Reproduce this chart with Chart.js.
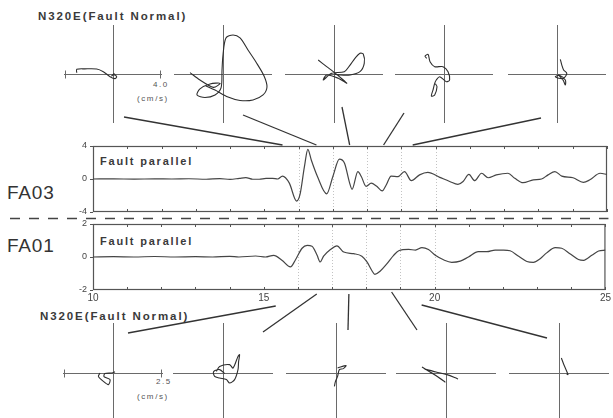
<!DOCTYPE html>
<html>
<head>
<meta charset="utf-8">
<script src="https://cdn.jsdelivr.net/npm/chart.js@4.4.0/dist/chart.umd.min.js"></script>
<style>
  html, body { margin: 0; padding: 0; background: #fff; }
  #stage { position: relative; width: 613px; height: 418px; overflow: hidden;
           font-family: Arial, "Liberation Sans", sans-serif; color: #333; }
  #stage canvas { position: absolute; }
  .lbl { position: absolute; white-space: nowrap; line-height: 1; }
  .title { font-size: 11.5px; font-weight: bold; letter-spacing: 1.9px; color: #3a3a3a; }
  .station { font-size: 19px; letter-spacing: 0.8px; color: #333; }
  .comp { font-size: 11px; font-weight: bold; letter-spacing: 1.8px; color: #3a3a3a; }
  .unit { font-size: 8px; letter-spacing: 1.6px; color: #555; }
</style>
</head>
<body>
<div id="stage">
  <div class="lbl title" style="left:38px; top:11px;">N320E(Fault Normal)</div>
  <div class="lbl unit" style="left:153px; top:81px;">4.0</div>
  <div class="lbl unit" style="left:137px; top:95px;">(cm/s)</div>
  <div class="lbl station" style="left:7px; top:183px;">FA03</div>
  <div class="lbl comp" style="left:100px; top:156px;">Fault parallel</div>
  <div class="lbl station" style="left:7px; top:236px;">FA01</div>
  <div class="lbl comp" style="left:100px; top:236px;">Fault parallel</div>
  <div class="lbl title" style="left:40px; top:311px;">N320E(Fault Normal)</div>
  <div class="lbl unit" style="left:156px; top:378px;">2.5</div>
  <div class="lbl unit" style="left:137px; top:393px;">(cm/s)</div>
</div>
<script>
// ---- Fault-parallel velocity traces (cm/s) against time (s) ----
const fa03Time = [10.0, 10.6, 11.2, 11.8, 12.3, 12.8, 13.3, 13.7, 14.0,
  14.27, 14.46, 14.66, 14.85, 15.05, 15.24, 15.39, 15.53, 15.73, 15.94,
  16.04, 16.17, 16.27, 16.37, 16.55, 16.82,
  17.0, 17.19, 17.34, 17.49, 17.56, 17.73, 17.83, 17.97,
  18.12, 18.27, 18.44, 18.56, 18.7, 18.9,
  19.09, 19.29, 19.53, 19.77,
  20.12, 20.41, 20.65, 20.8, 20.97,
  21.14, 21.34, 21.53, 21.77,
  22.11, 22.31, 22.55, 22.85,
  23.09, 23.28, 23.48, 23.68,
  24.01, 24.31, 24.5, 24.8, 25.0];
const fa03Vel = [0, 0.02, -0.02, 0.02, 0, 0.03, -0.03, 0.05, -0.05,
  0.08, 0.17, -0.03, -0.03, 0.08, 0.08, 0.0, 0.35, -0.5, -2.67,
  -1.9, 1.5, 3.6, 2.3, 0.3, -1.8,
  0.3, 2.4, 1.9, -0.5, -1.25, 0.9, 0.3, -0.9,
  -0.5, -0.85, -1.45, -0.7, 0.35, 0.3,
  0.9, -0.2, 0.5, 0.8,
  0.2, -0.3, -0.65, -0.3, 0.55,
  -0.2, 0.7, 0.15, 0.5,
  0.7, 0.08, -0.45, -0.1,
  0.0, 0.5, 0.9, 0.35,
  0.15, -0.4, -0.1, 0.7, 0.55];

const fa01Time = [10.0, 10.6, 11.2, 11.8, 12.4, 13.0, 13.5, 14.0,
  14.27, 14.76, 15.05, 15.29, 15.53, 15.78, 15.92,
  16.12, 16.27, 16.41, 16.56, 16.65, 16.75, 16.95,
  17.14, 17.34, 17.63, 17.87,
  18.02, 18.17, 18.25, 18.41, 18.6, 18.8, 18.95,
  19.24, 19.44, 19.63, 19.82,
  20.02, 20.26, 20.5, 20.75, 20.99,
  21.28, 21.53, 21.77,
  22.02, 22.21, 22.46, 22.7, 22.89,
  23.09, 23.28, 23.53, 23.72, 23.96,
  24.21, 24.36, 24.6, 24.8, 25.0];
const fa01Vel = [0, 0.02, 0.0, 0.03, 0.0, 0.02, 0.0, 0.04,
  0.0, 0.06, 0.0, 0.1, -0.2, -0.6, -0.2,
  0.53, 0.7, 0.65, 0.1, -0.3, 0.05, 0.45,
  0.68, 0.3, 0.2, 0.05,
  -0.3, -0.85, -1.05, -0.85, -0.42, 0.1, 0.38,
  0.46, 0.42, 0.57, 0.45,
  0.1, -0.17, -0.32, -0.25, 0.0,
  0.32, 0.32, 0.42,
  0.42, 0.38, 0.04, -0.27, -0.32,
  -0.1, 0.25, 0.57, 0.53, 0.2,
  -0.15, -0.2, 0.1, 0.36, 0.42];

// axis ticks
const timeTicks = [10, 15, 20, 25];
const fa03Ticks = [-4, 0, 4];
const fa01Ticks = [-2, 0, 2];
const guideTimes = [16, 17, 18, 19, 20];

// ---- Particle-motion hodograms: [fault-parallel, fault-normal] in cm/s ----
const fa03Hodo1 = [[-2.96,0.11],[-2.96,0.38],[-2.3,0.42],[-1.33,0.41],[-0.79,0.19],[-0.24,-0.22],[0.16,-0.38],[0.3,-0.22],[0.05,-0.05],[-0.1,-0.15],[0.12,0.05]];
const fa03Hodo2 = [[-2.69,0.11],[-1.88,-0.49],[-0.79,-1.09],[-0.24,-0.76],[-1.06,-0.82],[-1.88,-1.22],[-2.12,-1.71],[-1.47,-1.92],[-0.65,-1.71],[-0.16,-1.14],[-0.08,0.33],[0,1.55],[0.24,2.94],[0.82,3.18],[1.39,2.94],[2.04,1.96],[2.69,0.98],[3.35,-0.16],[3.59,-1.06],[3.27,-1.71],[2.45,-2.12],[1.39,-2.16],[0.41,-1.88],[-0.65,-1.31],[-1.39,-0.98]];
const fa03Hodo3 = [[-1.29,1.14],[-0.6,0.6],[-0.06,0.19],[0.76,-0.49],[1.04,-0.76],[0.35,-0.35],[-0.6,-0.08],[-0.87,-0.49],[-0.19,0.06],[0.84,0.19],[1.31,0.73],[1.71,1.28],[2.12,1.69],[2.39,1.63],[2.47,0.87],[2.12,0.19],[1.31,-0.08],[0.49,-0.08],[0.0,0.0]];
const fa03Hodo4 = [[-1.41,1.28],[-1.55,1.45],[-1.3,1.6],[-1.14,1.0],[-0.76,0.6],[-0.08,0.6],[0.33,0.19],[0.46,-0.49],[0.19,-0.63],[-0.35,-0.22],[-0.63,-0.49],[-0.76,-0.76],[-0.9,-1.31],[-1.03,-1.8],[-0.76,-1.71],[-0.57,-1.04],[-0.7,-0.8]];
const fa03Hodo5 = [[0.27,1.2],[0.4,0.7],[0.54,0.33],[0.8,0.05],[0.54,-0.35],[0.14,-0.35],[-0.14,-0.22],[0.2,-0.1],[0.68,-0.49],[0.68,-0.9],[0.5,-0.5],[0.1,-0.05]];

const fa01Hodo1 = [[-0.65,0],[-0.73,-0.17],[-0.48,-0.42],[-0.23,-0.58],[-0.15,-0.33],[-0.45,-0.18],[-0.4,-0.03],[-0.05,0],[0.1,0.06]];
const fa01Hodo2 = [[-0.33,0.08],[-0.17,0.33],[0.33,0.42],[0.5,0.25],[0.75,0.83],[0.83,0.92],[0.78,0.57],[0.75,0.17],[0.58,-0.33],[0.33,-0.5],[0.17,-0.33],[-0.17,-0.25],[-0.42,-0.17],[-0.47,0.07],[-0.17,0.17],[0.08,-0.03]];
const fa01Hodo3 = [[0.08,0.25],[0.5,0.37],[0.37,0.22],[0.17,0.17],[0.08,-0.17],[-0.03,-0.43],[-0.08,-0.67]];
const fa01Hodo4 = [[-1.2,0.3],[-0.8,0.05],[-0.4,-0.2],[-0.05,-0.45],[-0.25,-0.3],[-0.7,0.0],[-1.05,0.2],[-0.5,0.05],[0.05,-0.08],[0.5,-0.25],[0.6,-0.3]];
const fa01Hodo5 = [[0.12,0.75],[0.25,0.4],[0.4,0.05],[0.45,-0.08],[0.38,-0.05]];

// hodogram axis half-ranges (cm/s)
const fa03HodoRange = 4.0;
const fa01HodoRange = 2.5;

// times (s) on each trace that every hodogram is tied to
const fa03LinkTimes = [15.53, 16.52, 17.49, 18.48, 19.33];
const fa01LinkTimes = [15.35, 16.55, 17.49, 18.74, 19.62];

// ---- page layout ----
const W = 613, H = 418;
const PANEL = { left: 93, right: 607, yAxis: 20 };
const FA03_BOX = { top: 146, bottom: 212 };
const FA01_BOX = { top: 224, bottom: 290, xAxis: 14 };
const TOP_ROW = { y: 74, xs: [113, 223, 334, 444, 557], half: 49 };
const BOTTOM_ROW = { y: 373, xs: [113, 223, 336, 446, 559], half: 50 };
// where each link line meets its hodogram (offset from the hodogram centre)
const TOP_LINK_FOOT = [[11, 43], [20, 41], [8, 33], [-40, 39], [-16, 44]];
const BOTTOM_LINK_HEAD = [[15, -40], [40, -41], [12, -43], [-29, -43], [-12, -35]];
const BOTTOM_LINK_DROP = [16, 4, 4, 2, 15];

const stage = document.getElementById('stage');
const TRACE = '#454545';

function seg(ctx, x1, y1, x2, y2) {
  ctx.beginPath(); ctx.moveTo(x1, y1); ctx.lineTo(x2, y2); ctx.stroke();
}

function addCanvas(left, top, w, h) {
  const c = document.createElement('canvas');
  c.width = w; c.height = h;
  c.style.left = left + 'px'; c.style.top = top + 'px';
  c.style.width = w + 'px'; c.style.height = h + 'px';
  stage.appendChild(c);
  return c;
}

// frame, one-second ticks and dotted guides for a trace panel
const panelFrame = {
  id: 'panelFrame',
  beforeDatasetsDraw(chart) {
    const { ctx, chartArea: a, scales: { x, y } } = chart;
    ctx.save();
    ctx.strokeStyle = '#b4b4b4'; ctx.lineWidth = 0.8; ctx.setLineDash([1, 2]);
    guideTimes.forEach(t => {
      const px = Math.round(x.getPixelForValue(t)) + 0.5;
      seg(ctx, px, a.top, px, a.bottom);
    });
    ctx.setLineDash([]);
    ctx.strokeStyle = '#555'; ctx.lineWidth = 1.2;
    ctx.strokeRect(a.left + 0.5, a.top + 0.5, a.width - 1, a.height - 1);
    ctx.lineWidth = 1;
    for (let t = Math.ceil(x.min); t <= x.max; t++) {
      const px = Math.round(x.getPixelForValue(t)) + 0.5;
      seg(ctx, px, a.top, px, a.top + 3);
      seg(ctx, px, a.bottom - 3, px, a.bottom);
    }
    y.ticks.forEach(tk => {
      const py = Math.round(y.getPixelForValue(tk.value)) + 0.5;
      seg(ctx, a.left - 3, py, a.left, py);
    });
    ctx.restore();
  }
};

function traceChart(times, vels, ticks, box, showTime, extraPlugins) {
  const c = addCanvas(0, 0, W, H);
  const bottomPad = H - box.bottom - (showTime ? FA01_BOX.xAxis : 0);
  return new Chart(c, {
    type: 'line',
    data: {
      datasets: [{
        data: times.map((t, i) => ({ x: t, y: vels[i] })),
        borderColor: TRACE, borderWidth: 1.2, pointRadius: 0,
        cubicInterpolationMode: 'monotone', fill: false
      }]
    },
    options: {
      responsive: false, animation: false, events: [],
      layout: { padding: { left: PANEL.left - PANEL.yAxis, right: W - PANEL.right, top: box.top, bottom: bottomPad } },
      plugins: { legend: { display: false }, tooltip: { enabled: false } },
      scales: {
        x: {
          type: 'linear', min: timeTicks[0], max: timeTicks[timeTicks.length - 1],
          display: showTime,
          grid: { display: false, drawTicks: false }, border: { display: false },
          afterBuildTicks: s => { s.ticks = timeTicks.map(v => ({ value: v })); },
          ticks: { color: '#444', font: { size: 10 }, padding: 2, maxRotation: 0, autoSkip: false },
          afterFit: s => { s.height = showTime ? FA01_BOX.xAxis : 0; }
        },
        y: {
          min: ticks[0], max: ticks[ticks.length - 1],
          grid: { display: false, drawTicks: false }, border: { display: false },
          afterBuildTicks: s => { s.ticks = ticks.map(v => ({ value: v })); },
          ticks: { color: '#444', font: { size: 9 }, padding: 6 },
          afterFit: s => { s.width = PANEL.yAxis; }
        }
      }
    },
    plugins: [panelFrame].concat(extraPlugins || [])
  });
}

// crossed axes behind each hodogram
function hodoAxes(withEnds) {
  return {
    id: 'hodoAxes',
    beforeDatasetsDraw(chart) {
      const { ctx, chartArea: a, scales: { x, y } } = chart;
      const cx = Math.round(x.getPixelForValue(0)) + 0.5;
      const cy = Math.round(y.getPixelForValue(0)) + 0.5;
      ctx.save();
      ctx.strokeStyle = '#6a6a6a'; ctx.lineWidth = 1;
      seg(ctx, a.left, cy, a.right, cy);
      seg(ctx, cx, a.top, cx, a.bottom);
      if (withEnds) {
        seg(ctx, a.left + 1.5, cy - 4, a.left + 1.5, cy + 4);
        seg(ctx, a.right - 1.5, cy - 4, a.right - 1.5, cy + 4);
      }
      ctx.restore();
    }
  };
}

function hodogram(points, cx, cy, half, range, withEnds) {
  const c = addCanvas(cx - half, cy - half, half * 2, half * 2);
  return new Chart(c, {
    type: 'scatter',
    data: {
      datasets: [{
        data: points.map(([px, py]) => ({ x: px, y: py })),
        showLine: true, borderColor: '#2e2e2e', borderWidth: 1.1,
        pointRadius: 0, tension: 0.3
      }]
    },
    options: {
      responsive: false, animation: false, events: [],
      layout: { padding: 0 },
      plugins: { legend: { display: false }, tooltip: { enabled: false } },
      scales: {
        x: { type: 'linear', min: -range, max: range, display: false },
        y: { type: 'linear', min: -range, max: range, display: false }
      }
    },
    plugins: [hodoAxes(withEnds)]
  });
}

const topHodos = [fa03Hodo1, fa03Hodo2, fa03Hodo3, fa03Hodo4, fa03Hodo5].map((p, i) =>
  hodogram(p, TOP_ROW.xs[i], TOP_ROW.y, TOP_ROW.half, fa03HodoRange, i === 0));
const bottomHodos = [fa01Hodo1, fa01Hodo2, fa01Hodo3, fa01Hodo4, fa01Hodo5].map((p, i) =>
  hodogram(p, BOTTOM_ROW.xs[i], BOTTOM_ROW.y, BOTTOM_ROW.half, fa01HodoRange, i === 0));

const fa03Chart = traceChart(fa03Time, fa03Vel, fa03Ticks, FA03_BOX, false);

function hodoCentre(h) {
  return [h.canvas.offsetLeft + h.scales.x.getPixelForValue(0),
          h.canvas.offsetTop + h.scales.y.getPixelForValue(0)];
}

// station separator and the lines tying each hodogram to its time on the trace
const linkLines = {
  id: 'linkLines',
  afterDraw(chart) {
    const ctx = chart.ctx;
    const a03 = fa03Chart.chartArea, a01 = chart.chartArea;
    ctx.save();
    ctx.strokeStyle = '#444'; ctx.lineWidth = 1.4; ctx.setLineDash([10, 9]);
    const sepY = Math.round((a03.bottom + a01.top) / 2) + 0.5;
    seg(ctx, 10, sepY, a01.right + 3, sepY);
    ctx.setLineDash([]);
    ctx.strokeStyle = '#333'; ctx.lineWidth = 1.3;
    fa03LinkTimes.forEach((t, i) => {
      const [hx, hy] = hodoCentre(topHodos[i]);
      const px = fa03Chart.scales.x.getPixelForValue(t);
      seg(ctx, hx + TOP_LINK_FOOT[i][0], hy + TOP_LINK_FOOT[i][1], px, a03.top - 1);
    });
    fa01LinkTimes.forEach((t, i) => {
      const [hx, hy] = hodoCentre(bottomHodos[i]);
      const px = chart.scales.x.getPixelForValue(t);
      seg(ctx, px, a01.bottom + BOTTOM_LINK_DROP[i], hx + BOTTOM_LINK_HEAD[i][0], hy + BOTTOM_LINK_HEAD[i][1]);
    });
    ctx.restore();
  }
};

const fa01Chart = traceChart(fa01Time, fa01Vel, fa01Ticks, FA01_BOX, true, [linkLines]);
</script>
</body>
</html>
